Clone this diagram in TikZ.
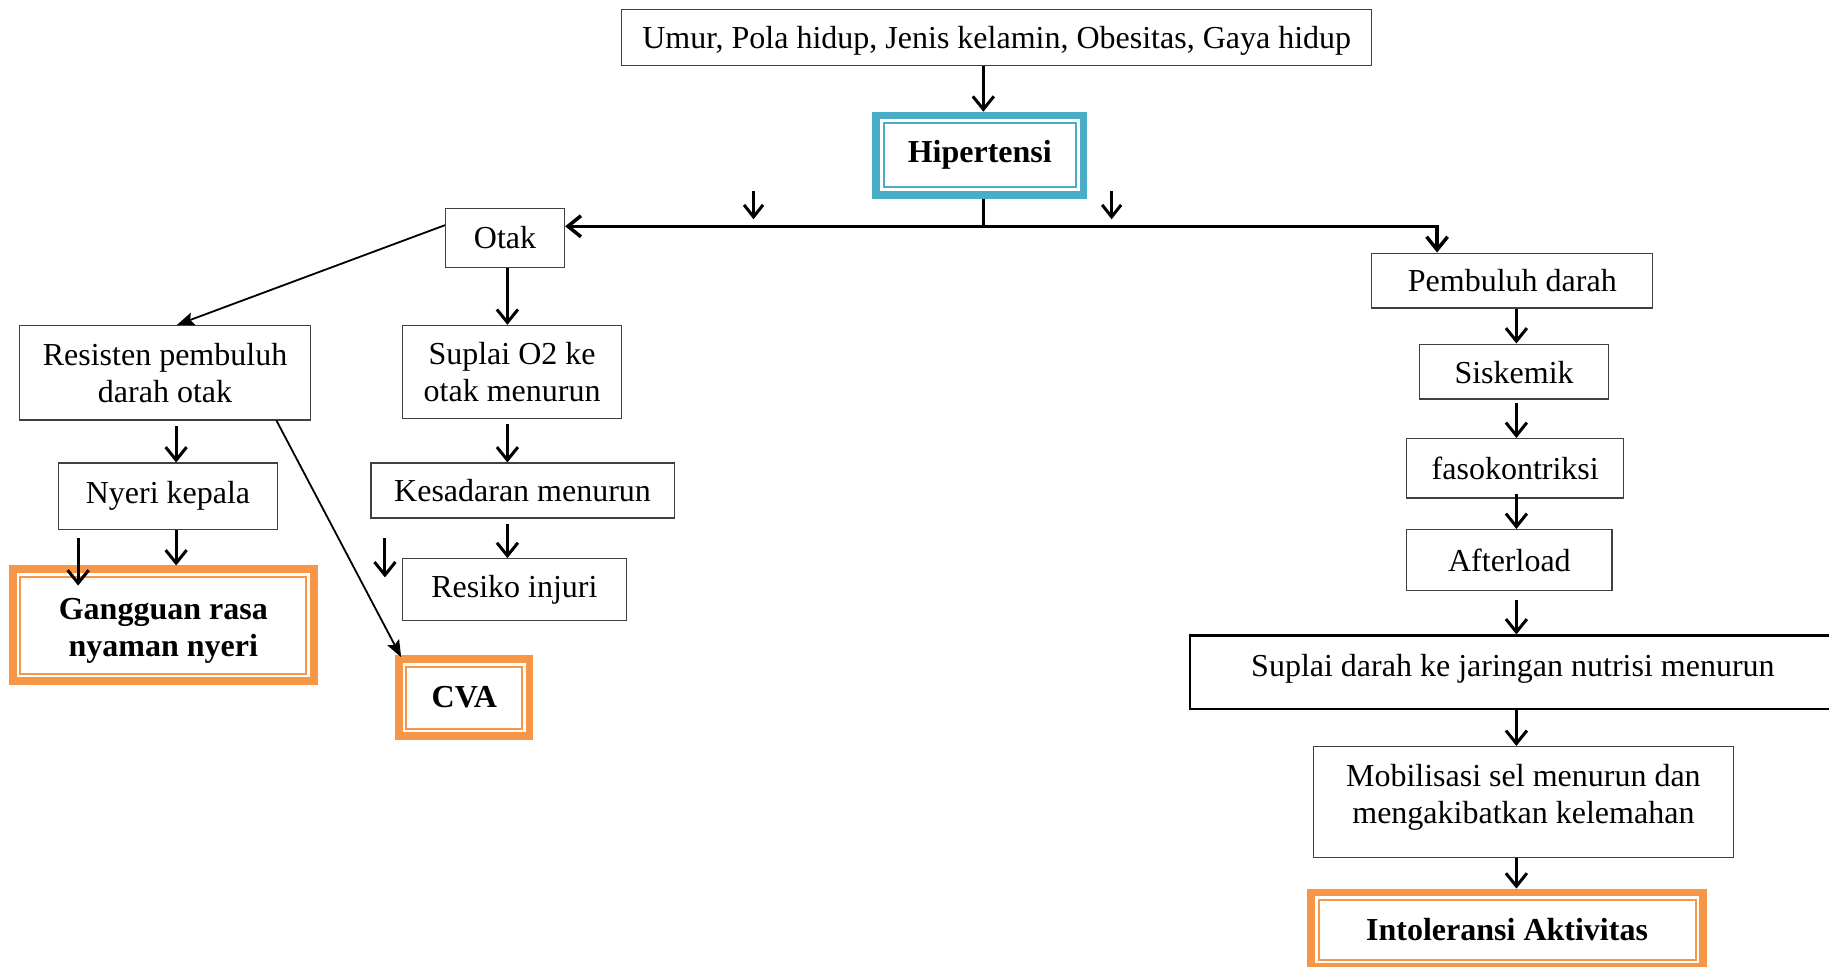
\documentclass[tikz,border=0pt]{standalone}
\usepackage{fontspec}
\setmainfont{Liberation Serif}
\usetikzlibrary{arrows.meta,calc}
\definecolor{tealc}{HTML}{4BACC6}
\definecolor{orgc}{HTML}{F79646}
\definecolor{bxc}{HTML}{404040}
\tikzset{
  tx/.style={font=\fontsize{32}{37}\selectfont, align=center, inner sep=0pt},
  bd/.style={font=\fontsize{32}{37}\selectfont\bfseries, align=center, inner sep=0pt},
  sz/.style 2 args={minimum width=#1*1.1665pt, minimum height=#2*1.1665pt},
  box/.style={tx, draw=bxc, line width=1.2pt},
  thickbox/.style={tx, draw=black, line width=2.5pt},
  dbl/.style={bd, draw=#1, line width=7.5pt,
    path picture={\draw[#1, line width=2pt]
      ([shift={(7.5pt,-7.5pt)}]path picture bounding box.north west) rectangle
      ([shift={(-7.5pt,7.5pt)}]path picture bounding box.south east);}},
  arr/.style={line width=3pt, -{Straight Barb[length=13pt,width=21pt]}},
  arrS/.style={line width=3pt, -{Straight Barb[length=12pt,width=19pt]}},
  arrH/.style={line width=3.5pt, -{Straight Barb[length=13pt,width=21pt]}},
  ln/.style={line width=3pt},
  thinarr/.style={line width=1.8pt, -{Stealth[length=17pt,width=13pt,inset=3pt]}}
}
\begin{document}
\begin{tikzpicture}[x=1.1665pt,y=-1.1665pt]
\useasboundingbox (0,0) rectangle (1568,829);
% nodes
\node[box, sz={643}{48}] (top) at (854.5,32) {\rule{0pt}{30pt}Umur, Pola hidup, Jenis kelamin, Obesitas, Gaya hidup};
\node[dbl=tealc, sz={178}{68}] (hip) at (840,133) {Hipertensi};
\node[box, sz={102}{50}] (otak) at (433,204) {Otak};
\node[box, sz={249}{81}] (res) at (141.5,319.5) {Resisten pembuluh\\darah otak};
\node[box, sz={188}{80}] (sup) at (439,319) {Suplai O2 ke\\otak menurun};
\node[box, sz={188}{57}] (nyeri) at (144,425.5) {Nyeri kepala};
\node[box, sz={260}{47}] (kes) at (448,420.5) {Kesadaran menurun};
\node[box, sz={192}{53}] (resiko) at (441,505.5) {Resiko injuri};
\node[dbl=orgc, sz={258}{96}] (gang) at (140,536) {\rule{0pt}{33pt}Gangguan rasa\\nyaman nyeri};
\node[dbl=orgc, sz={112}{66}] (cva) at (398,598) {CVA};
\node[box, sz={241}{47}] (pemb) at (1296.5,240.5) {Pembuluh darah};
\node[box, sz={162}{47}] (sisk) at (1298,318.5) {\rule{0pt}{25pt}Siskemik};
\node[box, sz={186}{51}] (faso) at (1299,401.5) {fasokontriksi};
\node[box, sz={176}{52}] (after) at (1294,480) {Afterload};
\node[thickbox, sz={554}{63}] (supd) at (1297,576.5) {\rule[-14pt]{0pt}{14pt}Suplai darah ke jaringan nutrisi menurun};
\node[box, sz={360}{95}] (mob) at (1306,687.5) {Mobilisasi sel menurun dan\\\rule[-16pt]{0pt}{16pt}mengakibatkan kelemahan};
\node[dbl=orgc, sz={336}{64}] (intol) at (1292,797) {Intoleransi Aktivitas};
% coordinates
\coordinate (cH) at (843,0);
\coordinate (cM) at (435,0);
\coordinate (cL) at (151,0);
\coordinate (cS) at (237,0);
\coordinate (cR) at (1300,0);
\coordinate (j) at (843,194);
\coordinate (pr) at (1232,194);
\coordinate (s1a) at (646,164); \coordinate (s1b) at (646,188);
\coordinate (s2a) at (953,164); \coordinate (s2b) at (953,188);
\coordinate (s3a) at (330,461); \coordinate (s3b) at (330,495);
\coordinate (s4a) at (67,461); \coordinate (s4b) at (67,502);
% connectors
\draw[arr] (top.south -| cH) -- (hip.north -| cH);
\draw[ln] (hip.south -| cH) -- (j);
\draw[arrH] (j) -- (otak.east |- j);
\draw[arrH] (j) -- (pr) -- (pr |- pemb.north);
\draw[arrS] (s1a) -- (s1b);
\draw[arrS] (s2a) -- (s2b);
\draw[arr] (s3a) -- (s3b);
\draw[arr] (s4a) -- (s4b);
\draw[thinarr] ([yshift=12.8pt]otak.west) -- ([xshift=12pt]res.north);
\draw[arr] (otak.south -| cM) -- (sup.north -| cM);
\draw[arr, shorten <=5pt] (res.south -| cL) -- (nyeri.north -| cL);
\draw[arr, shorten <=5pt] (sup.south -| cM) -- (kes.north -| cM);
\draw[arr, shorten <=5pt] (kes.south -| cM) -- (resiko.north -| cM);
\draw[arr] (nyeri.south -| cL) -- (gang.north -| cL);
\draw[thinarr] (res.south -| cS) -- ([shift={(6pt,-2pt)}]cva.north west);
\draw[arr] (pemb.south -| cR) -- (sisk.north -| cR);
\draw[arr, shorten <=3pt] (sisk.south -| cR) -- (faso.north -| cR);
\draw[arr, shorten <=-5pt] (faso.south -| cR) -- (after.north -| cR);
\draw[arr, shorten <=9pt] (after.south -| cR) -- (supd.north -| cR);
\draw[arr] (supd.south -| cR) -- (mob.north -| cR);
\draw[arr] (mob.south -| cR) -- (intol.north -| cR);
\end{tikzpicture}
\end{document}
